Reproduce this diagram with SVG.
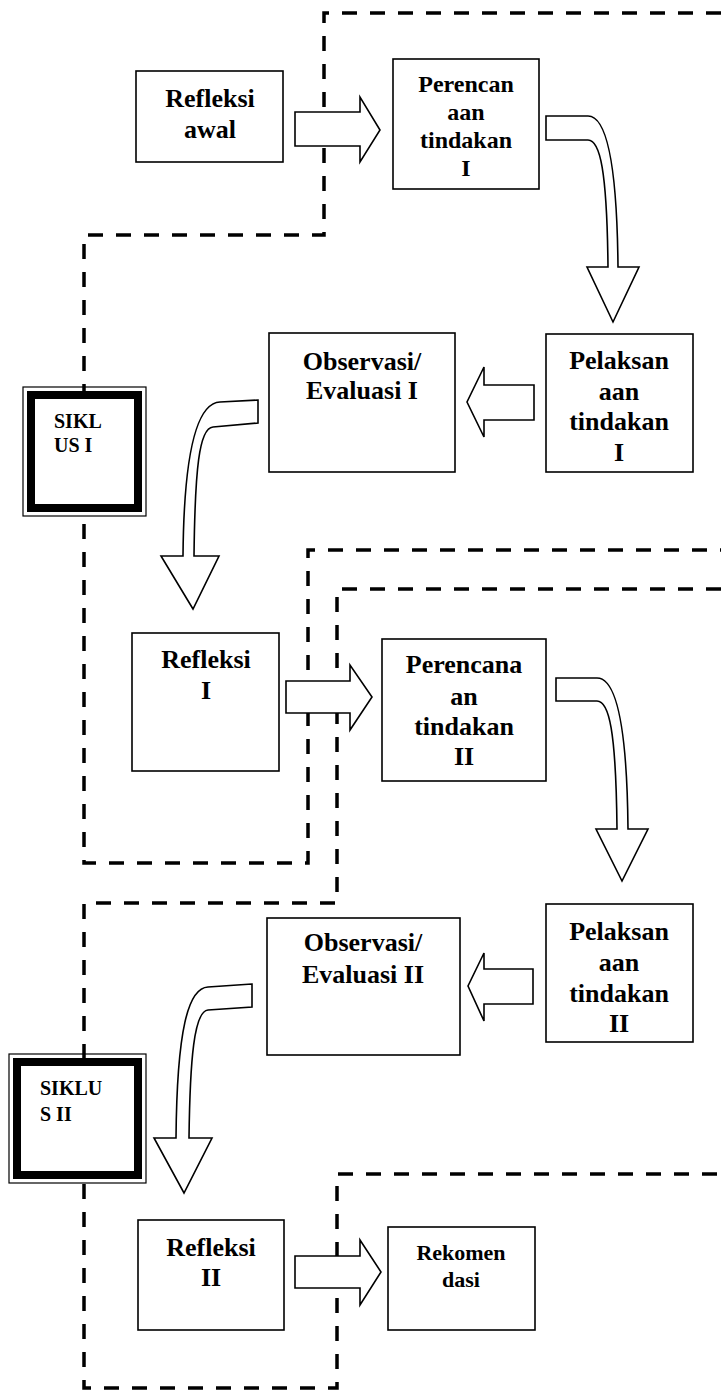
<svg xmlns="http://www.w3.org/2000/svg" width="721" height="1397" viewBox="0 0 721 1397">
<style>
.bg{fill:#fff}
.box{fill:#fff;stroke:#000;stroke-width:1.6}
.dash{fill:none;stroke:#000;stroke-width:3.5;stroke-dasharray:15 13}
.arrow{fill:#fff;stroke:#000;stroke-width:1.6;stroke-linejoin:miter}
.t{font-family:"Liberation Serif","Times New Roman",serif;font-weight:bold;font-size:26px;fill:#000;text-anchor:middle}
.s{font-family:"Liberation Serif","Times New Roman",serif;font-weight:bold;font-size:20px;fill:#000}
.thin{fill:none;stroke:#000;stroke-width:1.2}
.thick{fill:#fff;stroke:#000;stroke-width:8}
</style>
<rect class="bg" x="0" y="0" width="721" height="1397"/>
<g id="cycle-boundaries">
<path class="dash" d="M721,13 H324 V235 H84 V863 H308 V550 H721"/>
<path class="dash" d="M721,589 H337 V903 H84 V1388 H337 V1174 H721"/>
</g>
<g id="siklus-1">
<rect class="thin" x="23" y="387" width="123" height="129"/>
<rect class="thick" x="31" y="395" width="107" height="113"/>
<text class="s" x="54" y="428">SIKL</text>
<text class="s" x="54" y="452">US I</text>
</g>
<g id="siklus-2">
<rect class="thin" x="9" y="1054" width="137" height="129"/>
<rect class="thick" x="17" y="1062" width="121" height="113"/>
<text class="s" x="40" y="1095">SIKLU</text>
<text class="s" x="40" y="1121">S II</text>
</g>
<g id="refleksi-awal">
<rect class="box" x="136" y="71" width="147" height="91"/>
<text class="t" x="210" y="107">Refleksi</text>
<text class="t" x="210" y="138">awal</text>
</g>
<g id="perencanaan-1">
<rect class="box" x="393" y="59" width="146" height="130"/>
<text class="t" x="466" y="92" style="font-size:24px">Perencan</text>
<text class="t" x="466" y="120" style="font-size:24px">aan</text>
<text class="t" x="466" y="148" style="font-size:24px">tindakan</text>
<text class="t" x="466" y="176" style="font-size:24px">I</text>
</g>
<g id="pelaksanaan-1">
<rect class="box" x="546" y="334" width="147" height="138"/>
<text class="t" x="619" y="369">Pelaksan</text>
<text class="t" x="619" y="400">aan</text>
<text class="t" x="619" y="430">tindakan</text>
<text class="t" x="619" y="461">I</text>
</g>
<g id="observasi-1">
<rect class="box" x="269" y="333" width="186" height="139"/>
<text class="t" x="362" y="370">Observasi/</text>
<text class="t" x="362" y="399">Evaluasi I</text>
</g>
<g id="refleksi-1">
<rect class="box" x="132" y="633" width="147" height="138"/>
<text class="t" x="206" y="668">Refleksi</text>
<text class="t" x="206" y="699">I</text>
</g>
<g id="perencanaan-2">
<rect class="box" x="382" y="639" width="164" height="142"/>
<text class="t" x="464" y="673">Perencana</text>
<text class="t" x="464" y="705">an</text>
<text class="t" x="464" y="735">tindakan</text>
<text class="t" x="464" y="765">II</text>
</g>
<g id="pelaksanaan-2">
<rect class="box" x="546" y="904" width="147" height="138"/>
<text class="t" x="619" y="940">Pelaksan</text>
<text class="t" x="619" y="971">aan</text>
<text class="t" x="619" y="1002">tindakan</text>
<text class="t" x="619" y="1032">II</text>
</g>
<g id="observasi-2">
<rect class="box" x="267" y="918" width="193" height="137"/>
<text class="t" x="363" y="951">Observasi/</text>
<text class="t" x="363" y="983">Evaluasi II</text>
</g>
<g id="refleksi-2">
<rect class="box" x="138" y="1220" width="146" height="110"/>
<text class="t" x="211" y="1256">Refleksi</text>
<text class="t" x="211" y="1286">II</text>
</g>
<g id="rekomendasi">
<rect class="box" x="388" y="1227" width="147" height="103"/>
<text class="t" x="461" y="1260" style="font-size:22px">Rekomen</text>
<text class="t" x="461" y="1287" style="font-size:22px">dasi</text>
</g>
<g id="connectors">
<path class="arrow" d="M295,112 H360 V97 L380,130 L360,162 V146 H295 Z"/>
<path class="arrow" d="M546,116 H588 C606,116 617,160 618,267 H639 L613,322 L587,267 H608 C607,170 600,140 588,140 H546 Z"/>
<path class="arrow" d="M534,385 H484 V367 L467,402 L484,437 V420 H534 Z"/>
<path class="arrow" d="M258,400 L220,402 C200,403 184,440 183,556 H161 L193,609 L219,556 H194 C195,470 199,428 213,427 L258,423 Z"/>
<path class="arrow" d="M286,681 H350 V665 L372,697 L350,730 V713 H286 Z"/>
<path class="arrow" d="M556,678 H597 C615,678 627,720 628,829 H648 L622,881 L596,829 H617 C616,730 609,701 597,701 H556 Z"/>
<path class="arrow" d="M533,969 H484 V953 L468,986 L484,1021 V1004 H533 Z"/>
<path class="arrow" d="M252,984 L208,987 C188,988 177,1030 176,1138 H154 L184,1193 L212,1138 H189 C190,1060 194,1011 208,1010 L252,1007 Z"/>
<path class="arrow" d="M295,1256 H360 V1240 L381,1272 L360,1305 V1288 H295 Z"/>
</g>
</svg>
